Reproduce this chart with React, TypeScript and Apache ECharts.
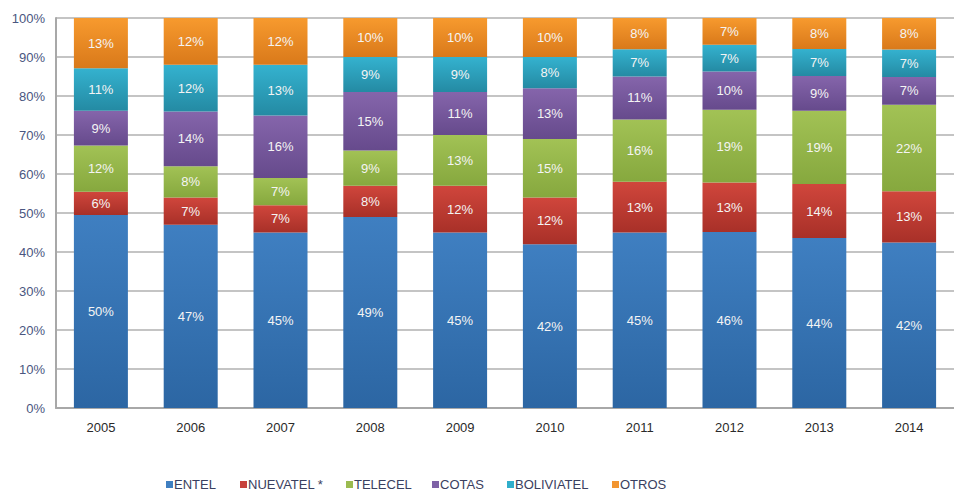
import React, { useEffect, useRef } from "react";
import * as echarts from "echarts";

const years = ["2005", "2006", "2007", "2008", "2009", "2010", "2011", "2012", "2013", "2014"];
const entel = [50, 47, 45, 49, 45, 42, 45, 46, 44, 42];
const nuevatel = [6, 7, 7, 8, 12, 12, 13, 13, 14, 13];
const telecel = [12, 8, 7, 9, 13, 15, 16, 19, 19, 22];
const cotas = [9, 14, 16, 15, 11, 13, 11, 10, 9, 7];
const boliviatel = [11, 12, 13, 9, 9, 8, 7, 7, 7, 7];
const otros = [13, 12, 12, 10, 10, 10, 8, 7, 8, 8];

const seriesNames = ["ENTEL", "NUEVATEL *", "TELECEL", "COTAS", "BOLIVIATEL", "OTROS"];
const seriesValues = [entel, nuevatel, telecel, cotas, boliviatel, otros];
const seriesColors = [
  ["#3f7fc1", "#2c66a3"],
  ["#d0463c", "#a83028"],
  ["#a2c255", "#86a83e"],
  ["#8565ab", "#664a8c"],
  ["#34b2cf", "#248aa3"],
  ["#f79a2e", "#d9791a"],
];
const legendColors = ["#3f7fc1", "#c8413a", "#9bbb50", "#7e62a6", "#30aecb", "#f29530"];
const legendLeft = [166, 240, 346, 432, 507, 612];

const FONT = "'Liberation Sans', Arial, sans-serif";

export default function App() {
  const ref = useRef<HTMLDivElement>(null);
  useEffect(() => {
    if (!ref.current) return;
    const chart = echarts.init(ref.current, undefined, { renderer: "svg" });
    const totals = years.map((_, i) => seriesValues.reduce((s, arr) => s + arr[i], 0));
    chart.setOption({
      animation: false,
      backgroundColor: "#ffffff",
      grid: { left: 56, right: -12, top: 18, bottom: 85 },
      legend: seriesNames.map((n, i) => ({
        top: 473,
        left: legendLeft[i] - 5,
        icon: "rect",
        itemWidth: 7,
        itemHeight: 7,
        textStyle: { fontFamily: FONT, fontSize: 13, color: "#3a4060", padding: [0, 0, 0, -4] },
        data: [{ name: n, itemStyle: { color: legendColors[i] } }],
      })),
      xAxis: {
        type: "category",
        data: years,
        axisLine: { lineStyle: { color: "#a8a8a8", width: 2 } },
        axisTick: { show: false },
        axisLabel: { fontFamily: FONT, fontSize: 13, color: "#2a2a2a", margin: 13 },
      },
      yAxis: {
        type: "value",
        min: 0,
        max: 100,
        interval: 10,
        axisLine: { show: true, lineStyle: { color: "#a8a8a8", width: 2 } },
        axisTick: { show: false },
        splitLine: { lineStyle: { color: "#b0b0b0", width: 1.5 } },
        axisLabel: { formatter: "{value}%", fontFamily: FONT, fontSize: 13, color: "#4a5680", margin: 11 },
      },
      series: seriesNames.map((name, si) => ({
        name,
        type: "bar",
        stack: "total",
        barWidth: 54,
        data: seriesValues[si].map((v, i) => (v / totals[i]) * 100),
        itemStyle: {
          color: new echarts.graphic.LinearGradient(0, 0, 0, 1, [
            { offset: 0, color: seriesColors[si][0] },
            { offset: 1, color: seriesColors[si][1] },
          ]),
        },
        label: {
          show: true,
          position: "inside",
          fontFamily: FONT,
          fontSize: 13,
          color: "#f4f4f4",
          formatter: (p: any) => seriesValues[si][p.dataIndex] + "%",
        },
      })),
    });
    return () => chart.dispose();
  }, []);
  return <div ref={ref} style={{ width: 954, height: 493, position: "absolute", left: 0, top: 0 }} />;
}
